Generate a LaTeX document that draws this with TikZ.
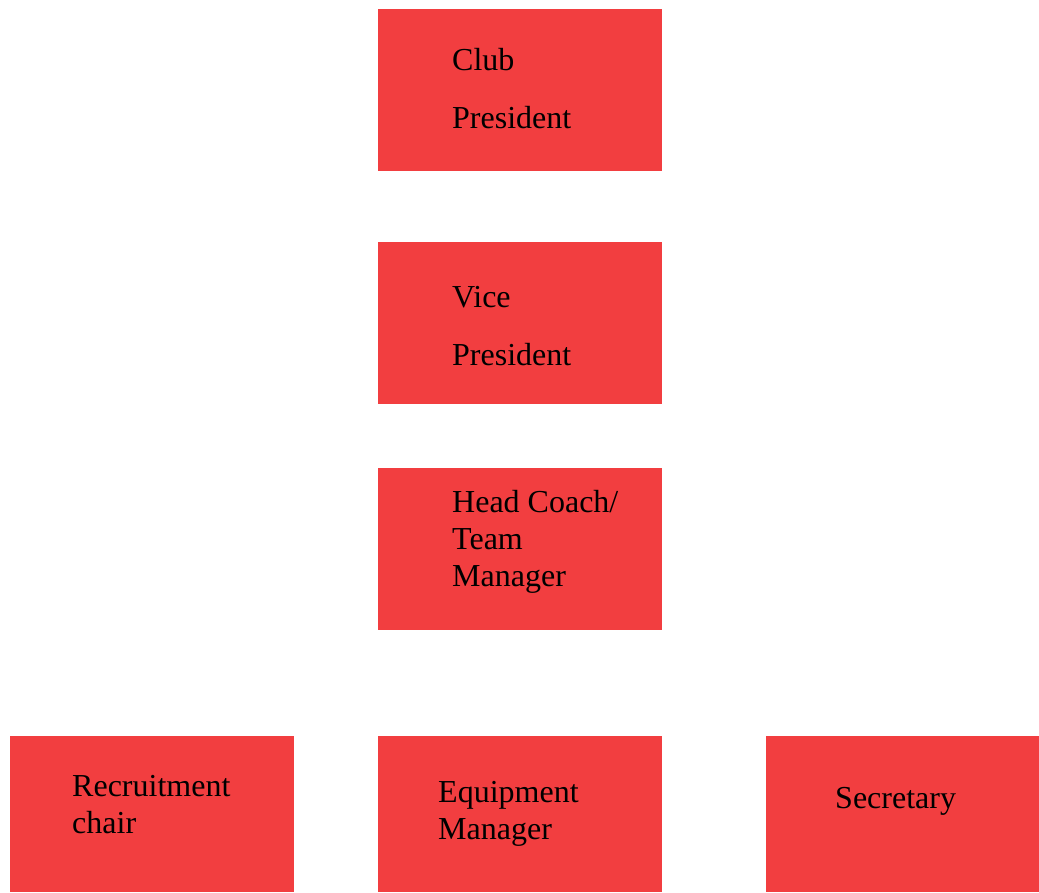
\documentclass[tikz,border=0pt]{standalone}
\usepackage{fontspec}
\setmainfont{Liberation Serif}
\definecolor{boxred}{RGB}{242,62,64}
\begin{document}
\begin{tikzpicture}[x=1pt, y=-1pt, box/.style = {fill=boxred, draw=none, anchor=north west, inner sep=0pt, minimum height=162pt, minimum width=284pt},
				label/.style={anchor=base west, inner sep=0pt, align=left, font=\fontsize{32}{37}\selectfont}]
				\useasboundingbox (0,0) rectangle (1039,892);

				\node[box] (club) at (378,9) {};
				\node[box] (vice) at (378,242) {};
				\node[box] (coach) at (378,468) {};
				\node[box, minimum height=156pt] (recruit) at (10,736) {};
				\node[box, minimum height=156pt] (equip) at (378,736) {};
				\node[box, minimum height=156pt, minimum width=273pt] (secr) at (766,736) {};

				% anchor sits on the baseline of the last line
				\node[label] (clubtext) at ([shift={(74pt,-119pt)}]club.north west) {Club\\[21pt]President};
				\node[label] (vicetext) at ([shift={(74pt,-123pt)}]vice.north west) {Vice\\[21pt]President};
				\node[label] (coachtext) at ([shift={(74pt,-118pt)}]coach.north west) {Head Coach/\\Team\\Manager};
				\node[label] (recruittext) at ([shift={(62pt,-97pt)}]recruit.north west) {Recruitment\\chair};
				\node[label] (equiptext) at ([shift={(60pt,-103pt)}]equip.north west) {Equipment\\Manager};
				\node[label] (secrtext) at ([shift={(69pt,-72pt)}]secr.north west) {Secretary};

			\end{tikzpicture}
\end{document}
